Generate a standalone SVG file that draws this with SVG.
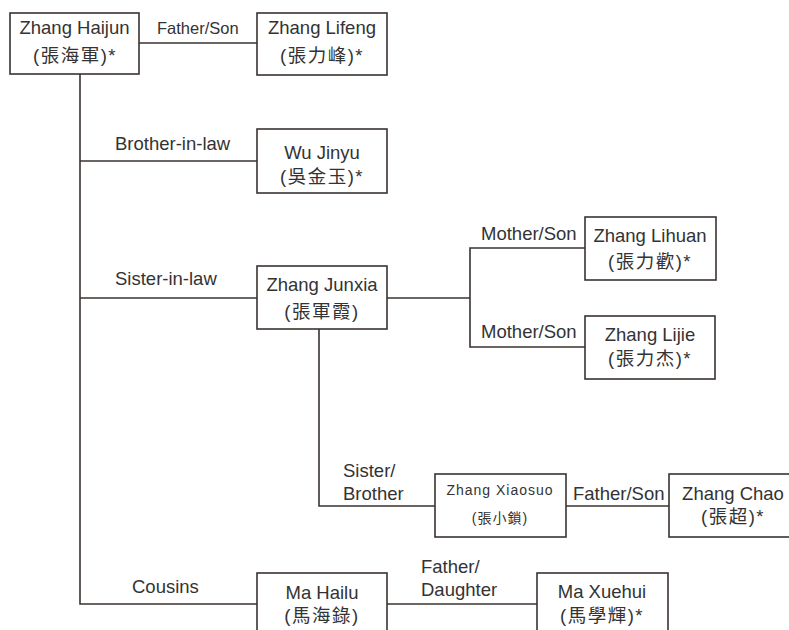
<svg xmlns="http://www.w3.org/2000/svg" width="789" height="630" viewBox="0 0 789 630">
<style>
  text { font-family: "Liberation Sans", "Noto Sans CJK TC", sans-serif; fill: #333; font-size: 18.5px; text-anchor: middle; }
  .cjk { letter-spacing: 1.5px; }
  .lbl { text-anchor: start; }
  .box { fill: #fff; stroke: #3a3330; stroke-width: 1.6; }
  .ln { fill: none; stroke: #3a3330; stroke-width: 1.6; }
  .small { font-size: 14px; letter-spacing: 1px; }
</style>
<rect width="789" height="630" fill="#fff"/>
<g id="connectors">
  <path class="ln" d="M80 74 V604 H257"/>
  <path class="ln" d="M139 43 H257"/>
  <path class="ln" d="M80 161 H257"/>
  <path class="ln" d="M80 298 H257"/>
  <path class="ln" d="M387 298 H470"/>
  <path class="ln" d="M585 248 H470 V347 H585"/>
  <path class="ln" d="M319 329 V506 H435"/>
  <path class="ln" d="M566 506 H669"/>
  <path class="ln" d="M387 604 H537"/>
  <text class="lbl" x="157" y="34" style="font-size:16.5px">Father/Son</text>
  <text class="lbl" x="115" y="150">Brother-in-law</text>
  <text class="lbl" x="115" y="285">Sister-in-law</text>
  <text class="lbl" x="481" y="240">Mother/Son</text>
  <text class="lbl" x="481" y="338">Mother/Son</text>
  <text class="lbl" x="343" y="477">Sister/</text>
  <text class="lbl" x="343" y="500">Brother</text>
  <text class="lbl" x="573" y="500">Father/Son</text>
  <text class="lbl" x="132" y="593">Cousins</text>
  <text class="lbl" x="421" y="573">Father/</text>
  <text class="lbl" x="421" y="596">Daughter</text>
</g>
<g id="zhang-haijun">
  <rect class="box" x="10" y="13" width="129" height="61"/>
  <text x="74.5" y="34">Zhang Haijun</text>
  <text class="cjk" x="75" y="62">(張海軍)*</text>
</g>
<g id="zhang-lifeng">
  <rect class="box" x="257" y="13" width="130" height="62"/>
  <text x="322" y="34">Zhang Lifeng</text>
  <text class="cjk" x="322" y="62">(張力峰)*</text>
</g>
<g id="wu-jinyu">
  <rect class="box" x="257" y="129" width="130" height="64"/>
  <text x="322" y="159">Wu Jinyu</text>
  <text class="cjk" x="322" y="183">(吳金玉)*</text>
</g>
<g id="zhang-junxia">
  <rect class="box" x="257" y="266" width="130" height="63"/>
  <text x="322" y="291">Zhang Junxia</text>
  <text class="cjk" x="322" y="318">(張軍霞)</text>
</g>
<g id="zhang-lihuan">
  <rect class="box" x="585" y="217" width="131" height="63"/>
  <text x="650" y="242">Zhang Lihuan</text>
  <text class="cjk" x="650" y="268">(張力歡)*</text>
</g>
<g id="zhang-lijie">
  <rect class="box" x="585" y="316" width="130" height="63"/>
  <text x="650" y="341">Zhang Lijie</text>
  <text class="cjk" x="650" y="365">(張力杰)*</text>
</g>
<g id="zhang-xiaosuo">
  <rect class="box" x="435" y="474" width="131" height="63"/>
  <text class="small" x="500" y="495">Zhang Xiaosuo</text>
  <text class="small" x="500" y="523">(張小鎖)</text>
</g>
<g id="zhang-chao">
  <rect class="box" x="669" y="474" width="140" height="63"/>
  <text x="733" y="500">Zhang Chao</text>
  <text class="cjk" x="733" y="523">(張超)*</text>
</g>
<g id="ma-hailu">
  <rect class="box" x="257" y="573" width="130" height="70"/>
  <text x="322" y="599">Ma Hailu</text>
  <text class="cjk" x="322" y="622">(馬海錄)</text>
</g>
<g id="ma-xuehui">
  <rect class="box" x="537" y="573" width="131" height="70"/>
  <text x="602" y="598">Ma Xuehui</text>
  <text class="cjk" x="602" y="622">(馬學輝)*</text>
</g>
</svg>
